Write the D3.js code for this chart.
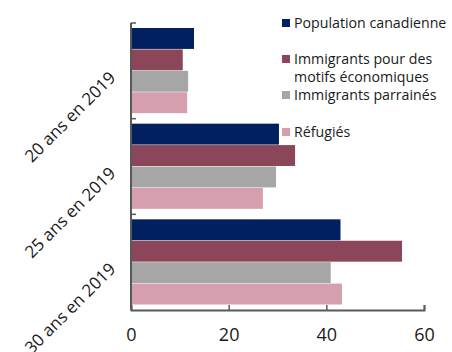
<!DOCTYPE html>
<html>
<head>
  <meta charset="utf-8">
  <script src="https://d3js.org/d3.v7.min.js"></script>
  <style>
    body { margin: 0; background: #fff; }
    text { font-family: "Open Sans", sans-serif; fill: #1a1a1a; }
  </style>
</head>
<body>
  <svg width="452" height="352"></svg>
  <script>
    // data (%)
    const groups = ["20 ans en 2019", "25 ans en 2019", "30 ans en 2019"];
    const series = ["Population canadienne", "Immigrants pour des motifs économiques", "Immigrants parrainés", "Réfugiés"];
    const legendLines = [["Population canadienne"], ["Immigrants pour des", "motifs économiques"], ["Immigrants parrainés"], ["Réfugiés"]];
    const colors = ["#00205f", "#8c4659", "#a6a6a6", "#d59fae"];
    const pop = [12.9, 30.3, 42.9];
    const eco = [10.6, 33.6, 55.5];
    const parr = [11.7, 29.7, 40.9];
    const refu = [11.5, 27.0, 43.2];
    const xTicks = [0, 20, 40, 60];

    const values = [pop, eco, parr, refu];
    const svg = d3.select("svg");

    const x = d3.scaleLinear().domain([0, 60]).range([131, 424]);
    const y = d3.scaleBand().domain(groups).range([23, 310]);
    const ySub = d3.scaleBand().domain(series).range([5, y.bandwidth() - 5]);

    // bars
    groups.forEach((g, gi) => {
      series.forEach((s, si) => {
        svg.append("rect")
          .attr("x", x(0))
          .attr("y", y(g) + ySub(s))
          .attr("width", x(values[si][gi]) - x(0))
          .attr("height", ySub.bandwidth() - 0.5)
          .attr("fill", colors[si]);
      });
    });

    // x axis, ticks pointing up
    const xAxis = svg.append("g")
      .attr("transform", "translate(0,310)")
      .call(d3.axisBottom(x).tickValues(xTicks).tickSizeInner(-5).tickSizeOuter(-5).tickPadding(18));
    xAxis.select(".domain").attr("stroke", "#595959").attr("stroke-width", 2);
    xAxis.selectAll(".tick line").attr("stroke", "#595959").attr("stroke-width", 1.5);
    xAxis.selectAll(".tick text").attr("font-size", 18).attr("fill", "#1a1a1a")
      .attr("font-family", "'Open Sans', sans-serif");

    // y axis with ticks at band boundaries
    const bounds = groups.map(g => y(g)).concat([y.range()[1]]);
    svg.append("line")
      .attr("x1", x(0)).attr("x2", x(0))
      .attr("y1", bounds[0]).attr("y2", bounds[3])
      .attr("stroke", "#595959").attr("stroke-width", 2);
    svg.selectAll(".ytick").data(bounds.slice(0, 3)).enter().append("line")
      .attr("x1", x(0)).attr("x2", x(0) + 5)
      .attr("y1", d => d).attr("y2", d => d)
      .attr("stroke", "#595959").attr("stroke-width", 1.5);

    // category labels, rotated
    groups.forEach(g => {
      const cx = x(0) - 14.5, cy = y(g) + y.bandwidth() / 2 + 8;
      svg.append("text")
        .attr("transform", `translate(${cx},${cy}) rotate(-45)`)
        .attr("text-anchor", "end")
        .attr("font-size", 17)
        .text(g);
    });

    // legend
    const legendY = [23, 59, 95, 132];
    legendLines.forEach((lines, i) => {
      svg.append("rect")
        .attr("x", 282).attr("y", legendY[i] - 4)
        .attr("width", 8).attr("height", 8)
        .attr("fill", colors[i]);
      lines.forEach((l, li) => {
        svg.append("text")
          .attr("x", 294).attr("y", legendY[i] + li * 18)
          .attr("dy", "0.35em")
          .attr("font-size", 14.2)
          .text(l);
      });
    });
  </script>
</body>
</html>
